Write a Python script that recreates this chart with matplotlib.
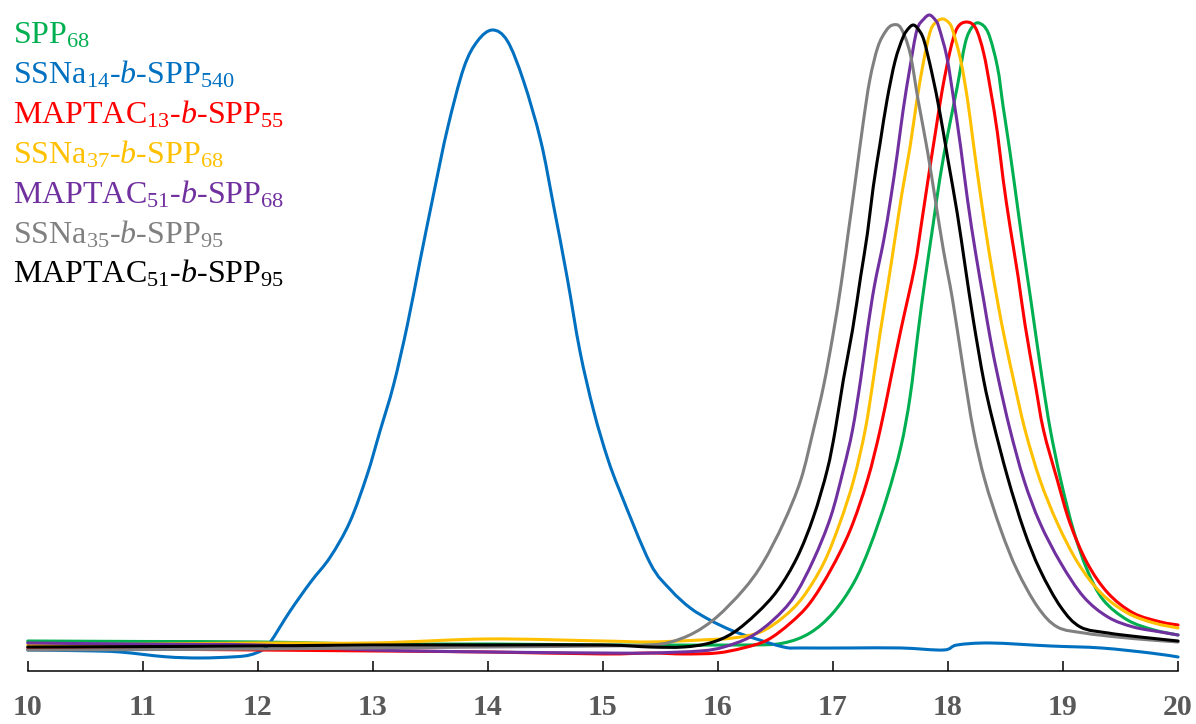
import matplotlib
matplotlib.use("Agg")
import numpy as np
import matplotlib.pyplot as plt
from matplotlib.path import Path
from matplotlib.patches import PathPatch

plt.rcParams["font.family"] = ["Liberation Serif", "DejaVu Serif"]
plt.rcParams["mathtext.fontset"] = "custom"
plt.rcParams["mathtext.rm"] = "Liberation Serif"
plt.rcParams["mathtext.it"] = "Liberation Serif:italic"

# === GPC traces (elution time, min / detector signal, a.u.) ===
spp68_x = [10.0, 11.0, 12.0, 13.0, 14.0, 15.0, 15.41, 16.28, 16.57, 16.80, 17.00, 17.18, 17.32, 17.47,
           17.59, 17.67, 17.74, 17.80, 17.87, 17.93, 18.00, 18.08, 18.15, 18.21, 18.27, 18.35, 18.43,
           18.48, 18.54, 18.60, 18.66, 18.72, 18.82, 18.89, 18.98, 19.09, 19.21, 19.35, 19.56,
           19.79, 20.0]
spp68_y = [0.83, 0.75, 0.67, 0.33, 0.33, 0.17, 0.17, 0.17, 0.5, 2.17, 5.5, 10.5, 16.5, 24.83,
           33.17, 41.5, 52.33, 61.0, 70.17, 78.0, 85.5, 93.17, 100.5, 103.17, 103.83, 102.17, 96.5,
           89.83, 82.17, 73.83, 65.5, 57.67, 44.33, 36.0, 27.67, 19.33, 12.67, 7.67, 4.33,
           2.67, 1.83]

ssna14_x = [10.0, 10.5, 10.8, 11.2, 11.5, 11.8, 11.93, 12.04, 12.11, 12.28, 12.46, 12.63, 12.80,
            12.95, 13.06, 13.18, 13.30, 13.41, 13.53, 13.65, 13.79, 13.91, 14.04, 14.17, 14.31,
            14.46, 14.57, 14.69, 14.80, 14.92, 15.04, 15.15, 15.41, 15.59, 15.76, 15.93, 16.11,
            16.28, 16.57, 16.72, 17.15, 17.59, 17.96, 18.08, 18.37, 18.89, 19.33, 19.76, 20.0]
ssna14_y = [-0.67, -0.8, -1.0, -1.8, -2.0, -1.8, -1.5, -0.67, 0.67, 5.8, 10.67, 14.83, 20.67,
            28.5, 35.67, 43.5, 53.5, 64.17, 75.5, 86.33, 96.33, 100.83, 102.67, 100.83, 94.17,
            84.17, 73.5, 61.33, 49.17, 39.17, 31.33, 25.67, 13.83, 9.33, 6.33, 4.33, 2.67,
            1.5, -0.17, -0.33, -0.33, -0.33, -0.67, 0.17, 0.5, 0.0, -0.33, -1.17, -1.83]

maptac13_x = [10.0, 11.0, 12.0, 13.0, 14.0, 15.0, 15.41, 15.70, 15.99, 16.22, 16.43, 16.63, 16.80,
              16.98, 17.15, 17.30, 17.41, 17.50, 17.59, 17.71, 17.77, 17.83, 17.89, 17.95,
              18.02, 18.08, 18.16, 18.24, 18.31, 18.37, 18.43, 18.48, 18.54, 18.61, 18.67, 18.76,
              18.83, 18.95, 19.06, 19.21, 19.39, 19.61, 19.85, 20.0]
maptac13_y = [-0.33, -0.5, -0.67, -0.83, -1.0, -1.33, -1.17, -1.33, -1.17, -0.33, 1.0, 3.83, 7.17,
              12.67, 19.33, 27.67, 36.0, 44.33, 52.67, 63.17, 70.5, 78.17, 85.5, 92.67,
              99.33, 103.0, 104.0, 103.0, 98.83, 92.67, 85.5, 77.67, 69.83, 61.5, 53.5, 43.5,
              36.0, 27.67, 20.5, 13.83, 8.83, 5.5, 4.0, 3.5]

ssna37_x = [10.0, 11.0, 12.0, 13.0, 14.0, 15.0, 15.41, 15.85, 16.13, 16.37, 16.57, 16.74, 16.92,
            17.06, 17.18, 17.28, 17.35, 17.41, 17.48, 17.54, 17.60, 17.67, 17.73, 17.79, 17.85,
            17.91, 17.96, 18.01, 18.04, 18.11, 18.17, 18.22, 18.28, 18.35, 18.43, 18.49, 18.57,
            18.67, 18.80, 18.95, 19.13, 19.33, 19.56, 19.79, 20.0]
ssna37_y = [0.17, 0.3, 0.5, 0.5, 1.17, 0.83, 0.67, 1.0, 1.33, 2.33, 4.83, 8.17, 13.83,
            20.5, 27.67, 36.0, 44.33, 52.17, 60.5, 68.0, 75.5, 83.17, 91.0, 97.67, 102.67,
            104.17, 104.5, 103.83, 102.67, 97.67, 91.0, 83.83, 75.5, 66.5, 57.5, 51.5, 44.33,
            36.0, 27.67, 20.5, 13.83, 8.83, 5.5, 3.83, 3.0]

maptac51_68_x = [10.0, 11.0, 12.0, 13.0, 14.0, 15.0, 15.41, 15.85, 16.05, 16.28, 16.48, 16.66, 16.83,
                 16.98, 17.09, 17.17, 17.24, 17.30, 17.36, 17.44, 17.50, 17.56, 17.61, 17.67, 17.73,
                 17.79, 17.84, 17.89, 17.92, 17.99, 18.05, 18.11, 18.17, 18.24, 18.31, 18.37, 18.44,
                 18.54, 18.66, 18.80, 18.98, 19.18, 19.39, 19.61, 19.85, 20.0]
maptac51_68_y = [0.5, 0.3, 0.17, -0.67, -1.0, -1.17, -1.17, -0.83, -0.17, 1.5, 4.33, 8.17, 14.33,
                 21.5, 29.33, 36.0, 44.33, 52.67, 60.0, 67.5, 74.33, 82.17, 89.33, 96.5, 102.67,
                 104.5, 105.17, 104.33, 103.17, 98.17, 91.0, 83.17, 74.33, 65.5, 57.67, 51.0, 44.33,
                 36.0, 27.67, 20.5, 13.83, 8.17, 4.83, 3.17, 2.33, 1.83]

ssna35_x = [10.0, 11.0, 12.0, 13.0, 14.0, 15.0, 15.41, 15.59, 15.79, 15.99, 16.22, 16.39, 16.57,
            16.72, 16.83, 16.92, 17.00, 17.07, 17.13, 17.19, 17.26, 17.32, 17.39, 17.46, 17.52,
            17.59, 17.67, 17.74, 17.82, 17.89, 17.96, 18.04, 18.13, 18.22, 18.32, 18.46, 18.60,
            18.78, 18.95, 19.18, 19.47, 19.76, 20.0]
ssna35_y = [-0.67, -0.6, -0.5, -0.33, -0.17, 0.0, 0.17, 0.67, 2.17, 4.83, 9.33, 13.83, 20.5,
            27.67, 36.0, 43.5, 51.83, 60.17, 68.5, 76.83, 86.83, 94.33, 99.83, 102.5, 103.5,
            103.0, 98.83, 91.0, 82.67, 74.33, 66.0, 57.67, 46.5, 36.0, 27.67, 19.33, 12.67,
            6.5, 3.17, 2.17, 1.5, 1.0, 0.67]

maptac51_95_x = [10.0, 11.0, 12.0, 13.0, 14.0, 15.0, 15.41, 15.70, 15.93, 16.13, 16.34, 16.52, 16.69,
                 16.83, 16.95, 17.02, 17.09, 17.17, 17.24, 17.30, 17.35, 17.41, 17.47, 17.54, 17.61,
                 17.66, 17.70, 17.74, 17.79, 17.86, 17.93, 18.00, 18.08, 18.15, 18.22, 18.31, 18.39,
                 18.52, 18.66, 18.80, 18.98, 19.15, 19.39, 19.67, 20.0]
maptac51_95_y = [-0.17, -0.1, 0.0, 0.17, 0.17, 0.17, -0.17, -0.17, 0.5, 2.17, 5.5, 9.33, 14.83,
                 21.5, 29.33, 36.0, 44.33, 52.67, 61.5, 68.83, 76.5, 83.83, 91.0, 97.5, 101.5,
                 103.0, 103.5, 102.83, 101.0, 95.5, 88.83, 81.0, 72.17, 63.17, 54.33, 44.33, 37.5,
                 28.0, 19.33, 12.67, 6.5, 3.17, 2.17, 1.5, 0.83]

series = [
    (spp68_x, spp68_y, "#00B050", r"SPP$_{68}$"),
    (ssna14_x, ssna14_y, "#0070C0", r"SSNa$_{14}$-$b$-SPP$_{540}$"),
    (maptac13_x, maptac13_y, "#FF0000", r"MAPTAC$_{13}$-$b$-SPP$_{55}$"),
    (ssna37_x, ssna37_y, "#FFC000", r"SSNa$_{37}$-$b$-SPP$_{68}$"),
    (maptac51_68_x, maptac51_68_y, "#7030A0", r"MAPTAC$_{51}$-$b$-SPP$_{68}$"),
    (ssna35_x, ssna35_y, "#808080", r"SSNa$_{35}$-$b$-SPP$_{95}$"),
    (maptac51_95_x, maptac51_95_y, "#000000", r"MAPTAC$_{51}$-$b$-SPP$_{95}$"),
]


def smooth_path(x, y):
    # smoothed line like Excel's "smoothed line" option (Catmull-Rom as cubic Bezier)
    p = np.column_stack([x, y])
    q = np.vstack([p[0], p, p[-1]])
    verts = [p[0]]
    codes = [Path.MOVETO]
    for i in range(len(p) - 1):
        p0, p1, p2, p3 = q[i], q[i + 1], q[i + 2], q[i + 3]
        verts += [p1 + (p2 - p0) / 6, p2 - (p3 - p1) / 6, p2]
        codes += [Path.CURVE4] * 3
    return Path(verts, codes)


# === Plot ===
fig = plt.figure(figsize=(11.96, 7.24), dpi=100)
ax = fig.add_axes([0.0232, 0.0732, 0.9618, 0.9268])

for x, y, color, label in series:
    ax.add_patch(PathPatch(smooth_path(x, y), fill=False, edgecolor=color, lw=2.2,
                           joinstyle="round", capstyle="round", clip_on=False))

ax.set_xlim(10, 20)
ax.set_ylim(-4.17, 107.67)
ax.set_xticks(range(10, 21))
ax.set_yticks([])
for side in ["left", "top", "right"]:
    ax.spines[side].set_visible(False)
ax.spines["bottom"].set_linewidth(1.1)
ax.tick_params(axis="x", direction="in", length=7.2, width=1.1, pad=16.5,
               labelsize=21.5, labelcolor="#595959")
for lbl in ax.get_xticklabels():
    lbl.set_fontweight("bold")

# coloured text legend, top left
for i, (x, y, color, label) in enumerate(series):
    fig.text(13 / 1196, 1 - (43 + 40 * i) / 724, label, color=color, fontsize=23,
             ha="left", va="baseline")

fig.savefig("out.png", dpi=100)
